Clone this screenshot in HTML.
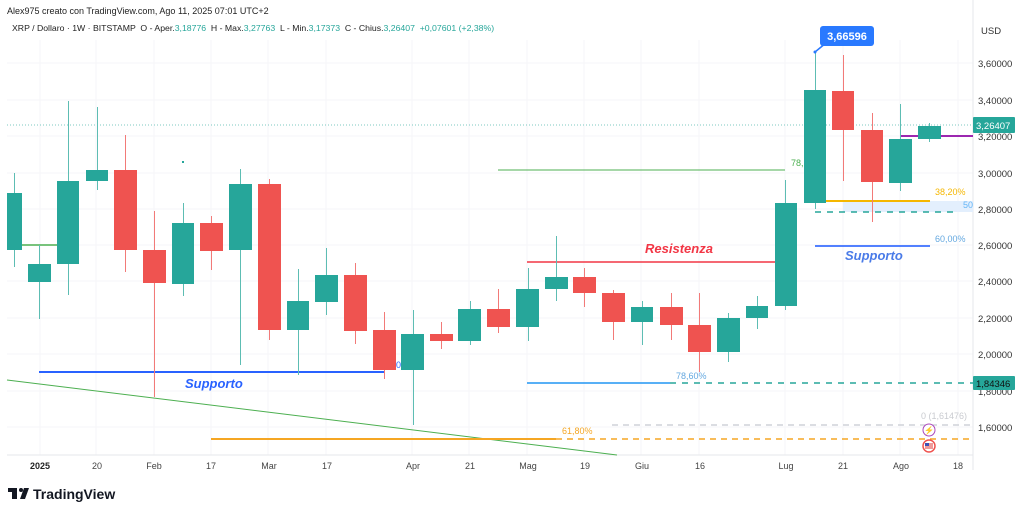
<!DOCTYPE html>
<html><head><meta charset="utf-8"><style>
html,body{margin:0;padding:0;background:#fff;}
svg{display:block;font-family:"Liberation Sans",sans-serif;}
</style></head><body>
<svg width="1024" height="514" viewBox="0 0 1024 514" xmlns="http://www.w3.org/2000/svg">
<rect width="1024" height="514" fill="#fff"/>
<!-- grid -->
<g stroke="#f5f6f8" stroke-width="1">
<line x1="40" y1="40" x2="40" y2="455"/><line x1="96" y1="40" x2="96" y2="455"/><line x1="154" y1="40" x2="154" y2="455"/><line x1="211" y1="40" x2="211" y2="455"/><line x1="268" y1="40" x2="268" y2="455"/><line x1="326" y1="40" x2="326" y2="455"/><line x1="412" y1="40" x2="412" y2="455"/><line x1="469" y1="40" x2="469" y2="455"/><line x1="527" y1="40" x2="527" y2="455"/><line x1="584" y1="40" x2="584" y2="455"/><line x1="641" y1="40" x2="641" y2="455"/><line x1="699" y1="40" x2="699" y2="455"/><line x1="785" y1="40" x2="785" y2="455"/><line x1="843" y1="40" x2="843" y2="455"/><line x1="900" y1="40" x2="900" y2="455"/><line x1="958" y1="40" x2="958" y2="455"/>
<line x1="7" y1="63" x2="973" y2="63"/><line x1="7" y1="100" x2="973" y2="100"/><line x1="7" y1="136" x2="973" y2="136"/><line x1="7" y1="173" x2="973" y2="173"/><line x1="7" y1="209" x2="973" y2="209"/><line x1="7" y1="245" x2="973" y2="245"/><line x1="7" y1="281" x2="973" y2="281"/><line x1="7" y1="318" x2="973" y2="318"/><line x1="7" y1="354" x2="973" y2="354"/><line x1="7" y1="391" x2="973" y2="391"/><line x1="7" y1="427" x2="973" y2="427"/>
</g>
<line x1="7" y1="455" x2="973" y2="455" stroke="#e5e7eb"/>
<line x1="973" y1="0" x2="973" y2="470" stroke="#e5e7eb"/>
<line x1="7" y1="125" x2="973" y2="125" stroke="#26a69a" stroke-width="1" stroke-dasharray="1,2" opacity="0.6"/>
<!-- drawings -->
<line x1="7" y1="380" x2="617" y2="455" stroke="#4caf50" stroke-width="1"/>
<line x1="7" y1="245" x2="57" y2="245" stroke="#4caf50" stroke-width="1.5"/>
<line x1="498" y1="170" x2="785" y2="170" stroke="#4caf50" stroke-width="1"/>
<text x="791" y="166" font-size="9" fill="#4caf50">78,</text>
<rect x="182" y="161" width="2" height="2" fill="#26a69a"/>
<line x1="39" y1="372" x2="384" y2="372" stroke="#2962ff" stroke-width="2"/>
<text x="185" y="388" font-size="13" font-weight="bold" font-style="italic" fill="#2962ff">Supporto</text>
<text x="396" y="368" font-size="9" fill="#2962ff">0</text>
<line x1="211" y1="439" x2="556" y2="439" stroke="#f5a623" stroke-width="2"/>
<line x1="556" y1="439" x2="973" y2="439" stroke="#f5a623" stroke-width="1.5" stroke-dasharray="6,5"/>
<text x="562" y="434" font-size="9" fill="#f5a623">61,80%</text>
<line x1="612" y1="425" x2="973" y2="425" stroke="#cfd2d8" stroke-width="1.5" stroke-dasharray="6,5"/>
<text x="921" y="419" font-size="9" fill="#c9cbd0">0 (1,61476)</text>
<line x1="527" y1="383" x2="670" y2="383" stroke="#2196f3" stroke-width="1.5"/>
<line x1="670" y1="383" x2="973" y2="383" stroke="#26a69a" stroke-width="1.5" stroke-dasharray="6,6"/>
<text x="676" y="379" font-size="9" fill="#64a8e0">78,60%</text>
<line x1="527" y1="262" x2="775" y2="262" stroke="#f23645" stroke-width="1.5"/>
<text x="645" y="253" font-size="13" font-weight="bold" font-style="italic" fill="#f23645">Resistenza</text>
<rect x="843" y="201" width="130" height="11" fill="#e3effd"/>
<text x="963" y="208" font-size="9" fill="#64b5f6">50</text>
<line x1="826" y1="201" x2="930" y2="201" stroke="#f5b700" stroke-width="2"/>
<text x="935" y="195" font-size="9" fill="#f5b700">38,20%</text>
<line x1="815" y1="212" x2="955" y2="212" stroke="#26a69a" stroke-width="1.5" stroke-dasharray="6,6"/>
<line x1="815" y1="246" x2="930" y2="246" stroke="#2962ff" stroke-width="2" opacity="0.8"/>
<text x="935" y="242" font-size="9" fill="#64a8e0">60,00%</text>
<text x="845" y="260" font-size="13" font-weight="bold" font-style="italic" fill="#4a7be8">Supporto</text>
<line x1="900" y1="136" x2="973" y2="136" stroke="#9c27b0" stroke-width="2"/>
<!-- candles -->
<g stroke-width="1">
<g fill="#26a69a" stroke="#5dbdb3">
<line x1="14.5" y1="173" x2="14.5" y2="267"/><rect x="7" y="193" width="15" height="57" stroke="none"/>
<line x1="39.5" y1="245" x2="39.5" y2="319"/><rect x="28" y="264" width="23" height="18" stroke="none"/>
<line x1="68.5" y1="101" x2="68.5" y2="295"/><rect x="57" y="181" width="22" height="83" stroke="none"/>
<line x1="97.5" y1="107" x2="97.5" y2="190"/><rect x="86" y="170" width="22" height="11" stroke="none"/>
<line x1="183.5" y1="203" x2="183.5" y2="296"/><rect x="172" y="223" width="22" height="61" stroke="none"/>
<line x1="240.5" y1="169" x2="240.5" y2="365"/><rect x="229" y="184" width="23" height="66" stroke="none"/>
<line x1="298.5" y1="269" x2="298.5" y2="375"/><rect x="287" y="301" width="22" height="29" stroke="none"/>
<line x1="326.5" y1="248" x2="326.5" y2="315"/><rect x="315" y="275" width="23" height="27" stroke="none"/>
<line x1="413.5" y1="310" x2="413.5" y2="425"/><rect x="401" y="334" width="23" height="36" stroke="none"/>
<line x1="470.5" y1="301" x2="470.5" y2="345"/><rect x="458" y="309" width="23" height="32" stroke="none"/>
<line x1="528.5" y1="268" x2="528.5" y2="341"/><rect x="516" y="289" width="23" height="38" stroke="none"/>
<line x1="556.5" y1="236" x2="556.5" y2="301"/><rect x="545" y="277" width="23" height="12" stroke="none"/>
<line x1="642.5" y1="301" x2="642.5" y2="345"/><rect x="631" y="307" width="22" height="15" stroke="none"/>
<line x1="728.5" y1="313" x2="728.5" y2="362"/><rect x="717" y="318" width="23" height="34" stroke="none"/>
<line x1="757.5" y1="296" x2="757.5" y2="329"/><rect x="746" y="306" width="22" height="12" stroke="none"/>
<line x1="785.5" y1="180" x2="785.5" y2="310"/><rect x="775" y="203" width="22" height="103" stroke="none"/>
<line x1="815.5" y1="52" x2="815.5" y2="209"/><rect x="804" y="90" width="22" height="113" stroke="none"/>
<line x1="900.5" y1="104" x2="900.5" y2="191"/><rect x="889" y="139" width="23" height="44" stroke="none"/>
<line x1="929.5" y1="123" x2="929.5" y2="142"/><rect x="918" y="126" width="23" height="13" stroke="none"/>
</g>
<g fill="#ef5350" stroke="#f27a78">
<line x1="125.5" y1="135" x2="125.5" y2="272"/><rect x="114" y="170" width="23" height="80" stroke="none"/>
<line x1="154.5" y1="211" x2="154.5" y2="397"/><rect x="143" y="250" width="23" height="33" stroke="none"/>
<line x1="211.5" y1="216" x2="211.5" y2="270"/><rect x="200" y="223" width="23" height="28" stroke="none"/>
<line x1="269.5" y1="179" x2="269.5" y2="340"/><rect x="258" y="184" width="23" height="146" stroke="none"/>
<line x1="355.5" y1="263" x2="355.5" y2="344"/><rect x="344" y="275" width="23" height="56" stroke="none"/>
<line x1="384.5" y1="312" x2="384.5" y2="379"/><rect x="373" y="330" width="23" height="40" stroke="none"/>
<line x1="441.5" y1="322" x2="441.5" y2="349"/><rect x="430" y="334" width="23" height="7" stroke="none"/>
<line x1="498.5" y1="289" x2="498.5" y2="333"/><rect x="487" y="309" width="23" height="18" stroke="none"/>
<line x1="584.5" y1="268" x2="584.5" y2="307"/><rect x="573" y="277" width="23" height="16" stroke="none"/>
<line x1="613.5" y1="290" x2="613.5" y2="340"/><rect x="602" y="293" width="23" height="29" stroke="none"/>
<line x1="671.5" y1="293" x2="671.5" y2="340"/><rect x="660" y="307" width="23" height="18" stroke="none"/>
<line x1="699.5" y1="293" x2="699.5" y2="372"/><rect x="688" y="325" width="23" height="27" stroke="none"/>
<line x1="843.5" y1="55" x2="843.5" y2="181"/><rect x="832" y="91" width="22" height="39" stroke="none"/>
<line x1="872.5" y1="113" x2="872.5" y2="222"/><rect x="861" y="130" width="22" height="52" stroke="none"/>
</g>
</g>
<!-- callout -->
<line x1="815" y1="52" x2="826" y2="43" stroke="#2979ff" stroke-width="1.5"/>
<circle cx="815" cy="52" r="1.5" fill="#2979ff"/>
<rect x="820" y="26" width="54" height="20" rx="3" fill="#2979ff"/>
<text x="847" y="40" font-size="11" font-weight="bold" fill="#fff" text-anchor="middle">3,66596</text>
<!-- icons -->
<circle cx="929" cy="430" r="6" fill="#fff" stroke="#ab47bc" stroke-width="1"/>
<text x="929" y="433" font-size="8" fill="#ab47bc" text-anchor="middle">⚡</text>
<circle cx="929" cy="446" r="6" fill="#fff" stroke="#ef5350" stroke-width="1.5"/>
<rect x="925" y="443" width="8" height="6" fill="#ef9a9a"/><rect x="925" y="443" width="4" height="3" fill="#3f51b5"/>
<!-- y axis -->
<g font-size="9.5" fill="#333">
<text x="981" y="34">USD</text>
<text x="978" y="67">3,60000</text><text x="978" y="104">3,40000</text><text x="978" y="140">3,20000</text><text x="978" y="177">3,00000</text><text x="978" y="213">2,80000</text><text x="978" y="249">2,60000</text><text x="978" y="285">2,40000</text><text x="978" y="322">2,20000</text><text x="978" y="358">2,00000</text><text x="978" y="395">1,80000</text><text x="978" y="431">1,60000</text>
</g>
<rect x="973" y="117" width="42" height="16" rx="1" fill="#26a69a"/>
<text x="976" y="129" font-size="9.5" fill="#fff">3,26407</text>
<rect x="973" y="376" width="42" height="14" rx="1" fill="#26a69a"/>
<text x="976" y="387" font-size="9.5" fill="#111">1,84346</text>
<!-- x axis -->
<g font-size="9" fill="#444" text-anchor="middle">
<text x="40" y="469" font-weight="bold" fill="#222">2025</text>
<text x="97" y="469">20</text><text x="154" y="469">Feb</text><text x="211" y="469">17</text><text x="269" y="469">Mar</text><text x="327" y="469">17</text><text x="413" y="469">Apr</text><text x="470" y="469">21</text><text x="528" y="469">Mag</text><text x="585" y="469">19</text><text x="642" y="469">Giu</text><text x="700" y="469">16</text><text x="786" y="469">Lug</text><text x="843" y="469">21</text><text x="901" y="469">Ago</text><text x="958" y="469">18</text>
</g>
<!-- header -->
<text x="7" y="14" font-size="9" fill="#222">Alex975 creato con TradingView.com, Ago 11, 2025 07:01 UTC+2</text>
<text x="12" y="31" font-size="8.7" fill="#222" xml:space="preserve">XRP / Dollaro · 1W · BITSTAMP  O - Aper.<tspan fill="#26a69a">3,18776</tspan>  H - Max.<tspan fill="#26a69a">3,27763</tspan>  L - Min.<tspan fill="#26a69a">3,17373</tspan>  C - Chius.<tspan fill="#26a69a">3,26407</tspan>  <tspan fill="#26a69a">+0,07601 (+2,38%)</tspan></text>
<!-- logo -->
<g fill="#131722">
<rect x="8" y="488" width="9" height="4"/><rect x="12" y="488" width="5" height="11"/>
<circle cx="21" cy="490" r="2"/>
<path d="M24,488 L29,488 L25,499 L20,499 Z"/>
</g>
<text x="33" y="499" font-size="14" font-weight="bold" fill="#131722">TradingView</text>
</svg>
</body></html>
